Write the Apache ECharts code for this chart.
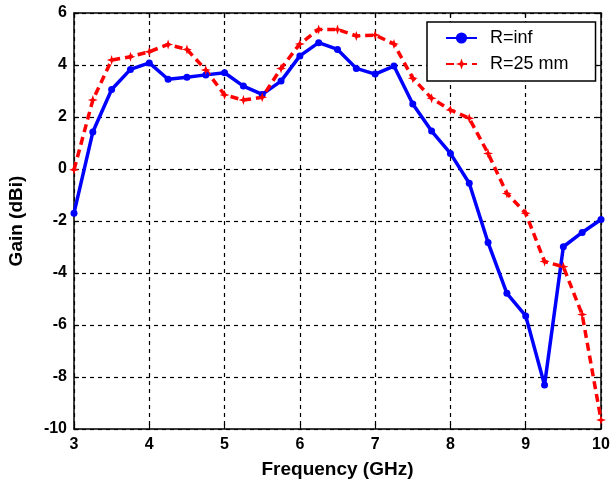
<!DOCTYPE html>
<html><head><meta charset="utf-8">
<script src="https://cdn.jsdelivr.net/npm/echarts@6/dist/echarts.min.js"></script>
<style>html,body{margin:0;padding:0;background:#fff}#c{width:610px;height:487px}</style>
</head><body><div id="c"></div>
<script>
const freq = [3,3.25,3.5,3.75,4,4.25,4.5,4.75,5,5.25,5.5,5.75,6,6.25,6.5,6.75,7,7.25,7.5,7.75,8,8.25,8.5,8.75,9,9.25,9.5,9.75,10];
const gainInf = [-1.7,1.42,3.06,3.83,4.08,3.45,3.53,3.62,3.7,3.19,2.87,3.38,4.35,4.86,4.6,3.87,3.65,3.96,2.5,1.46,0.6,-0.55,-2.83,-4.78,-5.65,-8.31,-2.99,-2.44,-1.94];
const gain25 = [-0.03,2.65,4.19,4.32,4.51,4.79,4.6,3.81,2.85,2.65,2.76,3.87,4.81,5.37,5.37,5.12,5.15,4.81,3.49,2.72,2.27,1.95,0.6,-0.94,-1.7,-3.56,-3.76,-5.6,-9.65];
const xTicks = [3,4,5,6,7,8,9,10];
const yTicks = [-10,-8,-6,-4,-2,0,2,4,6];

const chart = echarts.init(document.getElementById('c'));
const font = 'Liberation Sans, Arial, sans-serif';
const gridLine = {show:true, lineStyle:{color:'#000', type:[4,4], width:1.2}};
const axisLine = {show:true, onZero:false, lineStyle:{color:'#000', width:1.5}};
const tick = {show:true, inside:true, length:5, lineStyle:{color:'#000', width:1.2}};
chart.setOption({
  animation:false,
  grid:{left:74, right:9, top:13, bottom:58, containLabel:false, outerBoundsMode:'none'},
  legend:{
    left:427, top:22, orient:'vertical',
    backgroundColor:'#fff', borderColor:'#000', borderWidth:1.5,
    padding:[7,27,8,18], itemGap:8, itemWidth:31, itemHeight:14,
    textStyle:{fontFamily:font, fontSize:18, color:'#000', padding:[0,0,0,8]},
    data:['R=inf','R=25 mm']
  },
  xAxis:[{
    type:'value', min:3, max:10, interval:1, position:'bottom',
    axisLine:axisLine, axisTick:tick,
    splitLine:gridLine,
    axisLabel:{fontFamily:font, fontSize:16, fontWeight:'bold', color:'#000', margin:8},
    name:'Frequency (GHz)', nameLocation:'middle', nameGap:31,
    nameTextStyle:{fontFamily:font, fontSize:19, fontWeight:'bold', color:'#000'}
  },{
    type:'value', min:3, max:10, interval:1, position:'top',
    axisLine:axisLine, axisTick:tick,
    axisLabel:{show:false}, splitLine:{show:false}
  }],
  yAxis:[{
    type:'value', min:-10, max:6, interval:2, position:'left',
    axisLine:axisLine, axisTick:tick,
    splitLine:gridLine,
    axisLabel:{fontFamily:font, fontSize:16, fontWeight:'bold', color:'#000', margin:7},
    name:'Gain (dBi)', nameLocation:'middle', nameGap:48, nameRotate:90,
    nameTextStyle:{fontFamily:font, fontSize:19, fontWeight:'bold', color:'#000'}
  },{
    type:'value', min:-10, max:6, interval:2, position:'right',
    axisLine:axisLine, axisTick:tick,
    axisLabel:{show:false}, splitLine:{show:false}
  }],
  series:[{
    name:'R=inf', type:'line', data:freq.map((f,i)=>[f,gainInf[i]]),
    symbol:'circle', symbolSize:7, showAllSymbol:true,
    lineStyle:{color:'#0000ff', width:3.5}, itemStyle:{color:'#0000ff'}
  },{
    name:'R=25 mm', type:'line', data:freq.map((f,i)=>[f,gain25[i]]),
    symbol:'path://M0,-10L2.5,-2.5L10,0L2.5,2.5L0,10L-2.5,2.5L-10,0L-2.5,-2.5Z', symbolSize:10, showAllSymbol:true,
    lineStyle:{color:'#ff0000', width:3.5, type:[8,5]}, itemStyle:{color:'#ff0000'}
  }]
});
</script></body></html>
